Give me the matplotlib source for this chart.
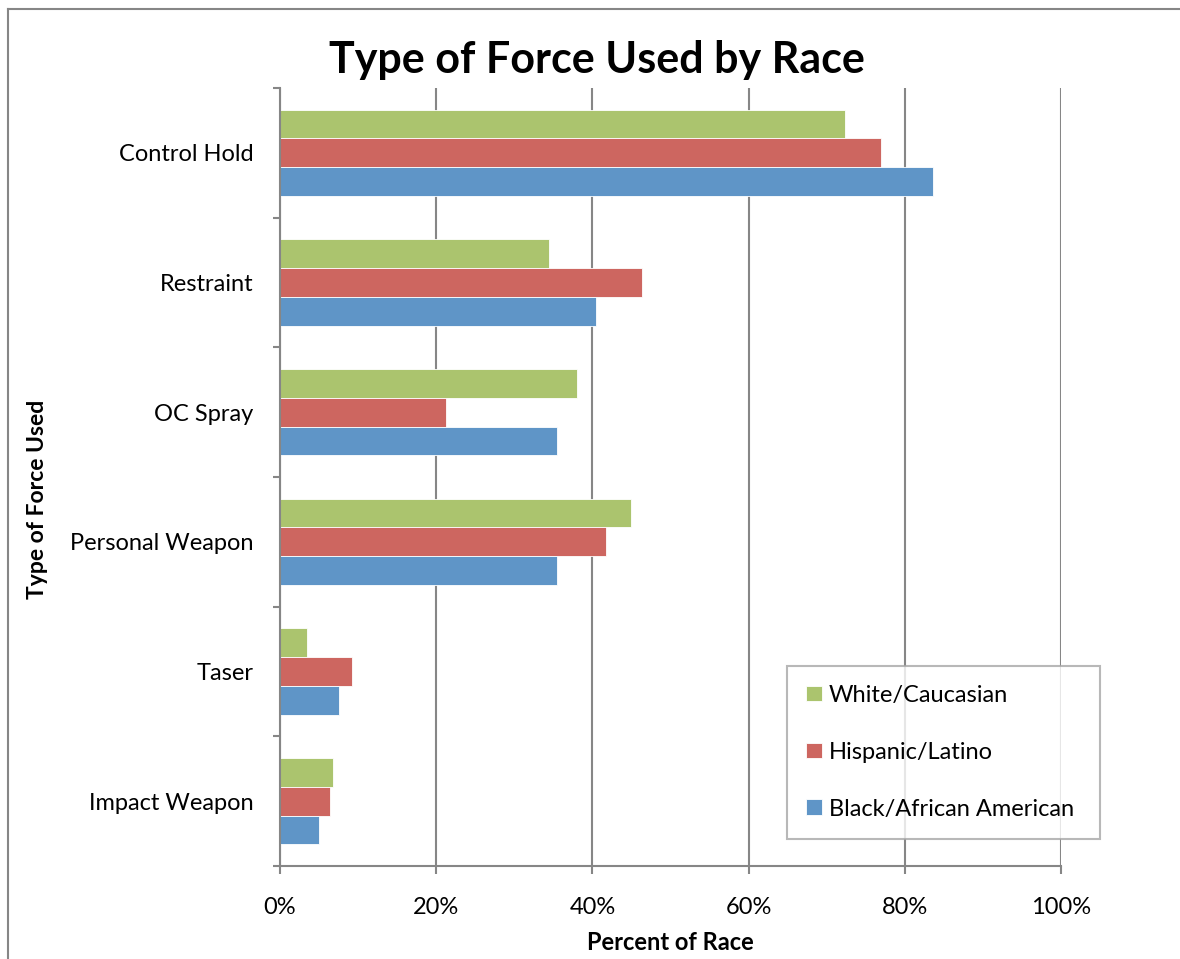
import numpy as np
import matplotlib
matplotlib.use("Agg")
import matplotlib.pyplot as plt
from matplotlib.lines import Line2D

# data (percent of race), categories listed top to bottom
categories = ["Control Hold", "Restraint", "OC Spray", "Personal Weapon", "Taser", "Impact Weapon"]
white = [72.4, 34.5, 38.0, 44.9, 3.4, 6.8]
hispanic = [76.9, 46.4, 21.3, 41.7, 9.2, 6.4]
black = [83.6, 40.5, 35.5, 35.5, 7.6, 5.0]
series_names = ["White/Caucasian", "Hispanic/Latino", "Black/African American"]

colors = ["#ABC46E", "#CD6660", "#5F95C7"]
grid_col = "#868686"

plt.rcParams['font.family'] = ['Lato', 'DejaVu Sans']

fig = plt.figure(figsize=(11.8, 9.59), dpi=100)
ax = fig.add_axes([280/1180, 1-866/959, (1061-280)/1180, (866-88)/959])

n = len(categories)
ypos = np.arange(n)[::-1]  # top category at highest y
bh = 1/4.5

for k, (vals, off) in enumerate(zip([white, hispanic, black], [bh, 0, -bh])):
    ax.barh(ypos + off, vals, height=bh, color=colors[k], edgecolor="white",
            linewidth=0.6, label=series_names[k], zorder=3)

ax.set_xlim(0, 100)
ax.set_ylim(-0.5, n - 0.5)

ax.set_xticks(np.arange(0, 101, 20))
ax.set_xticklabels([f"{v}%" for v in range(0, 101, 20)], fontsize=17)
ax.xaxis.grid(True, color=grid_col, linewidth=1.5, zorder=0)
ax.tick_params(axis='x', length=6, width=1.5, color=grid_col, pad=16)

ax.set_yticks(ypos)
ax.set_yticklabels(categories, fontsize=17)
ax.set_yticks(np.arange(-0.5, n, 1), minor=True)
ax.tick_params(axis='y', which='major', length=0, pad=19)
ax.tick_params(axis='y', which='minor', length=5, width=1.5, color=grid_col)

for s in ["top", "right"]:
    ax.spines[s].set_visible(False)
for s in ["left", "bottom"]:
    ax.spines[s].set_color(grid_col)
    ax.spines[s].set_linewidth(1.5)
    ax.spines[s].set_zorder(4)

fig.text(597/1180, 1-60/959, "Type of Force Used by Race", ha="center", va="center",
         fontsize=31, fontweight="bold")
fig.text(670/1180, 1-943/959, "Percent of Race", ha="center", va="center",
         fontsize=17, fontweight="bold")
fig.text(38/1180, 1-499/959, "Type of Force Used", ha="center", va="center",
         rotation=90, fontsize=16.5, fontweight="bold")

leg = ax.legend(loc="lower left", bbox_to_anchor=((787-280)/781, (866-839)/778, (1100-787)/781, (839-669)/778),
                mode="expand", fontsize=17, frameon=True, fancybox=False, handlelength=0.65,
                handleheight=0.65, handletextpad=0.3, labelspacing=1.52, borderpad=0.82,
                borderaxespad=0)
leg.get_frame().set_edgecolor("#A6A6A6")
leg.get_frame().set_linewidth(1.5)

# outer chart border (top and left edges visible)
x0, y0 = 8/1180, 1-9/959
fig.lines.append(Line2D([x0, 1.0], [y0, y0], transform=fig.transFigure, color=grid_col, linewidth=1.5))
fig.lines.append(Line2D([x0, x0], [0, y0], transform=fig.transFigure, color=grid_col, linewidth=1.5))

fig.savefig("out.png", dpi=100)
